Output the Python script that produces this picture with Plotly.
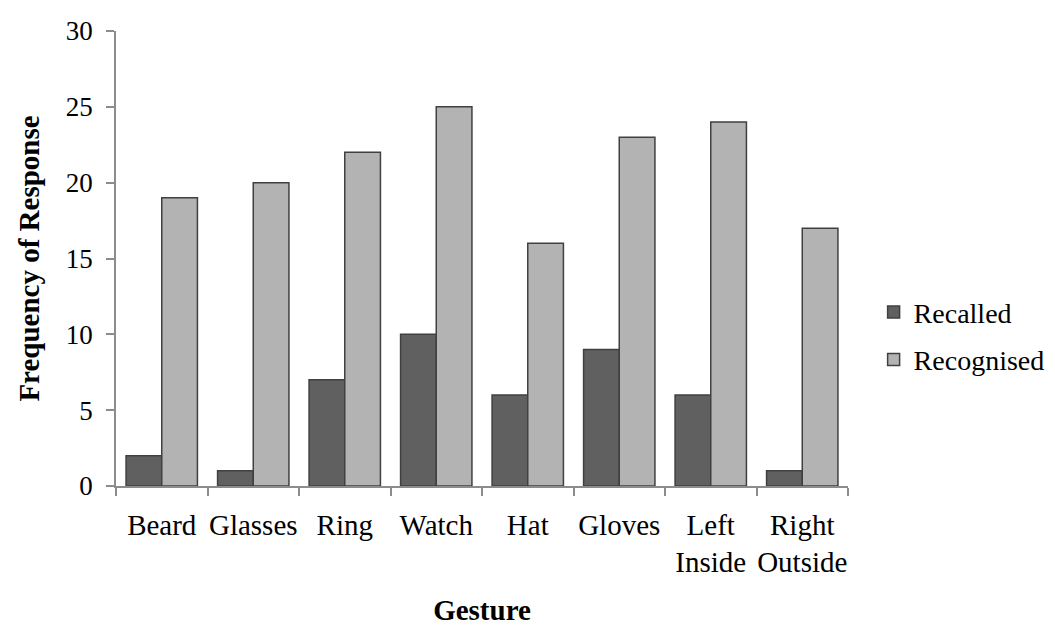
import plotly.graph_objects as go

categories = ["Beard", "Glasses", "Ring", "Watch", "Hat", "Gloves", "Left<br>Inside", "Right<br>Outside"]
recalled = [2, 1, 7, 10, 6, 9, 6, 1]
recognised = [19, 20, 22, 25, 16, 23, 24, 17]

font_family = "Liberation Serif, Times New Roman, serif"

fig = go.Figure()
fig.add_trace(go.Bar(x=categories, y=recalled, name="Recalled", legendgroup="a",
                     marker=dict(color="#606060", line=dict(color="#404040", width=1.5))))
fig.add_trace(go.Bar(x=categories, y=recognised, name="Recognised", legendgroup="b",
                     marker=dict(color="#b3b3b3", line=dict(color="#404040", width=1.5))))

fig.update_layout(
    width=1055, height=626,
    margin=dict(l=108, r=215, t=23, b=148, autoexpand=False),
    paper_bgcolor="white", plot_bgcolor="white",
    barmode="group", bargap=0.22, bargroupgap=0,
    font=dict(family=font_family, size=28, color="black"),
    legend=dict(x=1.035, xanchor="left", y=0.33, yanchor="middle",
                font=dict(size=28), traceorder="grouped", tracegroupgap=8),
    showlegend=True,
)
fig.update_xaxes(
    type="category", showline=True, linecolor="#8c8c8c", linewidth=1.5,
    ticks="outside", tickson="boundaries", ticklen=8, tickcolor="#8c8c8c", tickwidth=1.5,
    showgrid=False, tickfont=dict(size=29), tickangle=0, ticklabelstandoff=12,
    automargin=False,
    title=dict(text="<b>Gesture</b>", font=dict(size=29), standoff=22),
)
fig.update_yaxes(
    range=[0, 30], dtick=5, showline=True, linecolor="#8c8c8c", linewidth=1.5,
    ticks="outside", ticklen=8, tickcolor="#8c8c8c", tickwidth=1.5,
    showgrid=False, zeroline=False, tickfont=dict(size=27), ticklabelstandoff=8,
    automargin=False,
    title=dict(text="<b>Frequency of Response</b>", font=dict(size=29), standoff=18),
)

fig.write_html("out.html")
